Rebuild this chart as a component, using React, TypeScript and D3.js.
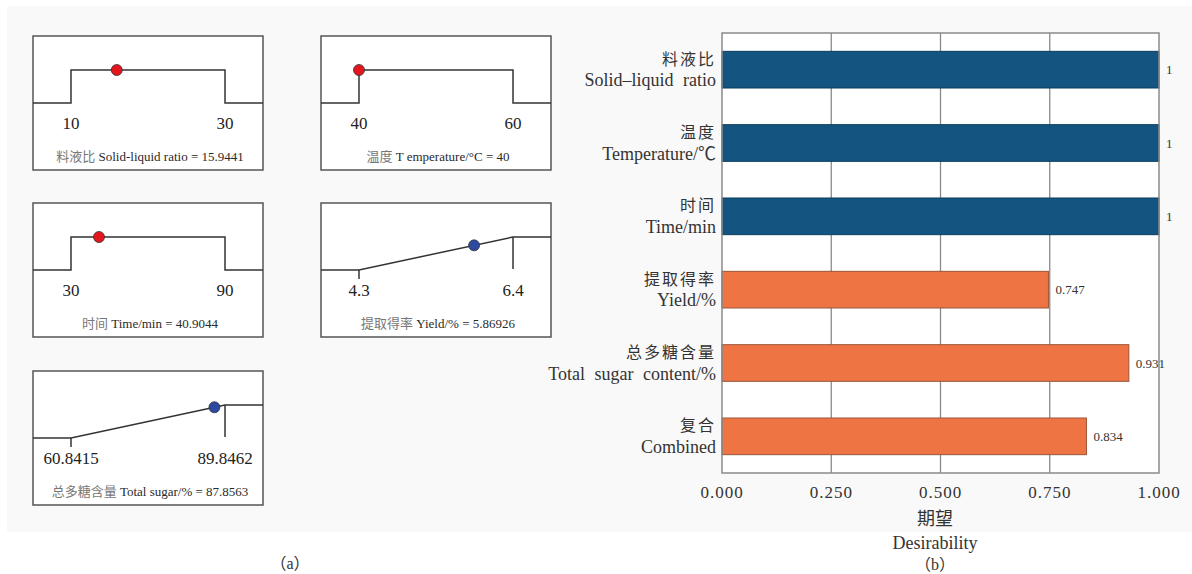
import { useEffect, useRef } from 'react'
import * as d3 from 'd3'

// (b) desirability bars
const factorCn = ['料液比', '温度', '时间', '提取得率', '总多糖含量', '复合']
const factorEn = ['Solid–liquid ratio', 'Temperature/℃', 'Time/min', 'Yield/%', 'Total sugar content/%', 'Combined']
const desirability = [1, 1, 1, 0.747, 0.931, 0.834]
const valueLabels = ['1', '1', '1', '0.747', '0.931', '0.834']
const barGroup = ['factor', 'factor', 'factor', 'response', 'response', 'response']
const xTicks = [0, 0.25, 0.5, 0.75, 1]

// (a) ramp panels
const panelCn = ['料液比', '温度', '时间', '提取得率', '总多糖含量']
const panelEn = ['Solid-liquid ratio', 'T emperature/°C', 'Time/min', 'Yield/%', 'Total sugar/%']
const panelLow = [10, 40, 30, 4.3, 60.8415]
const panelHigh = [30, 60, 90, 6.4, 89.8462]
const panelLowText = ['10', '40', '30', '4.3', '60.8415']
const panelHighText = ['30', '60', '90', '6.4', '89.8462']
const panelValue = [15.9441, 40, 40.9044, 5.86926, 87.8563]
const panelValueText = ['15.9441', '40', '40.9044', '5.86926', '87.8563']
const panelGoal = ['range', 'range', 'range', 'maximize', 'maximize']

const FONT = "'Liberation Serif', 'Noto Sans CJK SC', serif"

export default function App() {
  const ref = useRef<SVGSVGElement>(null)

  useEffect(() => {
    const svg = d3.select(ref.current)
    svg.selectAll('*').remove()

    svg.append('rect').attr('width', 1192).attr('height', 574).attr('fill', '#fff')
    svg.append('rect').attr('x', 7).attr('y', 6).attr('width', 1185).attr('height', 526).attr('fill', '#f9f9f9')

    // ---------- (a) panels ----------
    const boxW = 230, boxH = 134
    const origins = [[33, 36], [321, 36], [33, 203], [321, 203], [33, 371]]

    panelCn.forEach((cn, i) => {
      const [bx, by] = origins[i]
      const g = svg.append('g').attr('transform', `translate(${bx},${by})`)
      const x = d3.scaleLinear().domain([panelLow[i], panelHigh[i]]).range([38, 192])
      const y = d3.scaleLinear().domain([0, 1]).range([67, 34])
      const left = x.invert(0), right = x.invert(boxW)

      g.append('rect')
        .attr('width', boxW).attr('height', boxH)
        .attr('fill', '#fff').attr('stroke', '#555').attr('stroke-width', 1.5)

      const pts: [number, number][] = panelGoal[i] === 'range'
        ? [[left, 0], [panelLow[i], 0], [panelLow[i], 1], [panelHigh[i], 1], [panelHigh[i], 0], [right, 0]]
        : [[left, 0], [panelLow[i], 0], [panelHigh[i], 1], [right, 1]]

      const line = d3.line<[number, number]>().x(d => x(d[0])).y(d => y(d[1]))
      g.append('path').attr('d', line(pts)).attr('fill', 'none').attr('stroke', '#333').attr('stroke-width', 1.5)

      if (panelGoal[i] === 'maximize') {
        g.append('line')
          .attr('x1', x(panelLow[i])).attr('x2', x(panelLow[i]))
          .attr('y1', y(0)).attr('y2', y(0) + 9)
          .attr('stroke', '#333').attr('stroke-width', 1.5)
        g.append('line')
          .attr('x1', x(panelHigh[i])).attr('x2', x(panelHigh[i]))
          .attr('y1', y(1)).attr('y2', y(0) - 1)
          .attr('stroke', '#333').attr('stroke-width', 1.5)
      }

      const v = panelValue[i]
      const d = panelGoal[i] === 'range' ? 1 : Math.max(0, Math.min(1, (v - panelLow[i]) / (panelHigh[i] - panelLow[i])))
      g.append('circle')
        .attr('cx', x(v)).attr('cy', y(d)).attr('r', 5.5)
        .attr('fill', panelGoal[i] === 'range' ? '#e3161d' : '#2e4aa0')
        .attr('stroke', '#333').attr('stroke-width', 0.8)

      g.selectAll('.tk')
        .data([[panelLow[i], panelLowText[i]], [panelHigh[i], panelHighText[i]]] as [number, string][])
        .join('text')
        .attr('x', t => x(t[0])).attr('y', 87).attr('dy', '0.35em')
        .attr('text-anchor', 'middle')
        .style('font-family', FONT).style('font-size', '17px').style('fill', '#222')
        .text(t => t[1])

      const cap = g.append('text')
        .attr('x', boxW / 2 + 2).attr('y', 120).attr('dy', '0.35em')
        .attr('text-anchor', 'middle')
        .style('font-family', FONT).style('font-size', '13px')
      cap.append('tspan').style('fill', '#777').text(cn + ' ')
      cap.append('tspan').style('fill', '#2a2a2a').text(`${panelEn[i]} = ${panelValueText[i]}`)
    })

    svg.append('text')
      .attr('x', 290).attr('y', 563).attr('dy', '0.35em').attr('text-anchor', 'middle')
      .style('font-family', FONT).style('font-size', '16px').style('fill', '#333')
      .text('（a）')

    // ---------- (b) desirability ----------
    const x = d3.scaleLinear().domain([0, 1]).range([722, 1159])
    const y = d3.scaleBand().domain(factorEn).range([33, 473]).paddingInner(0.5).paddingOuter(0.25)

    svg.append('rect')
      .attr('x', 722).attr('y', 33).attr('width', x(1) - x(0)).attr('height', 440)
      .attr('fill', '#fff')

    svg.selectAll('.grid')
      .data(xTicks.slice(1, -1))
      .join('line')
      .attr('x1', d => x(d)).attr('x2', d => x(d))
      .attr('y1', 33).attr('y2', 473)
      .attr('stroke', '#8a8a8a').attr('stroke-width', 1.3)

    svg.selectAll('.bar')
      .data(desirability)
      .join('rect')
      .attr('x', x(0))
      .attr('y', (_, i) => y(factorEn[i])!)
      .attr('width', d => x(d) - x(0))
      .attr('height', y.bandwidth())
      .attr('fill', (_, i) => barGroup[i] === 'factor' ? '#135480' : '#ee7444')
      .attr('stroke', (_, i) => barGroup[i] === 'factor' ? '#0b3c5e' : '#9a5638')
      .attr('stroke-width', 1)

    svg.append('rect')
      .attr('x', 722).attr('y', 33).attr('width', x(1) - x(0)).attr('height', 440)
      .attr('fill', 'none').attr('stroke', '#8a8a8a').attr('stroke-width', 1.5)

    svg.selectAll('.val')
      .data(desirability)
      .join('text')
      .attr('x', d => x(d) + 7)
      .attr('y', (_, i) => y(factorEn[i])! + y.bandwidth() / 2)
      .attr('dy', '0.35em')
      .style('font-family', FONT).style('font-size', '13px').style('fill', '#333')
      .text((_, i) => valueLabels[i])

    // y labels, two lines
    factorEn.forEach((en, i) => {
      const cy = y(en)! + y.bandwidth() / 2
      svg.append('text')
        .attr('x', 716).attr('y', cy - 10.5).attr('dy', '0.35em').attr('text-anchor', 'end')
        .style('font-family', FONT).style('font-size', '16px').style('letter-spacing', '2px').style('fill', '#333')
        .text(factorCn[i])
      svg.append('text')
        .attr('x', 716).attr('y', cy + 10.5).attr('dy', '0.35em').attr('text-anchor', 'end')
        .style('font-family', FONT).style('font-size', '18px').style('word-spacing', '5px').style('fill', '#333')
        .text(en)
    })

    svg.selectAll('.xt')
      .data(xTicks)
      .join('text')
      .attr('x', d => x(d)).attr('y', 492).attr('dy', '0.35em').attr('text-anchor', 'middle')
      .style('font-family', FONT).style('font-size', '17px').style('letter-spacing', '1px').style('fill', '#333')
      .text(d => d3.format('.3f')(d))

    const title = [['期望', 519, 18], ['Desirability', 543, 18], ['（b）', 564, 16]] as [string, number, number][]
    svg.selectAll('.ttl')
      .data(title)
      .join('text')
      .attr('x', 935).attr('y', d => d[1]).attr('dy', '0.35em').attr('text-anchor', 'middle')
      .style('font-family', FONT).style('font-size', d => `${d[2]}px`).style('fill', '#333')
      .text(d => d[0])
  }, [])

  return (
    <svg ref={ref} width={1192} height={574}
      style={{ position: 'absolute', left: 0, top: 0, display: 'block' }} />
  )
}
